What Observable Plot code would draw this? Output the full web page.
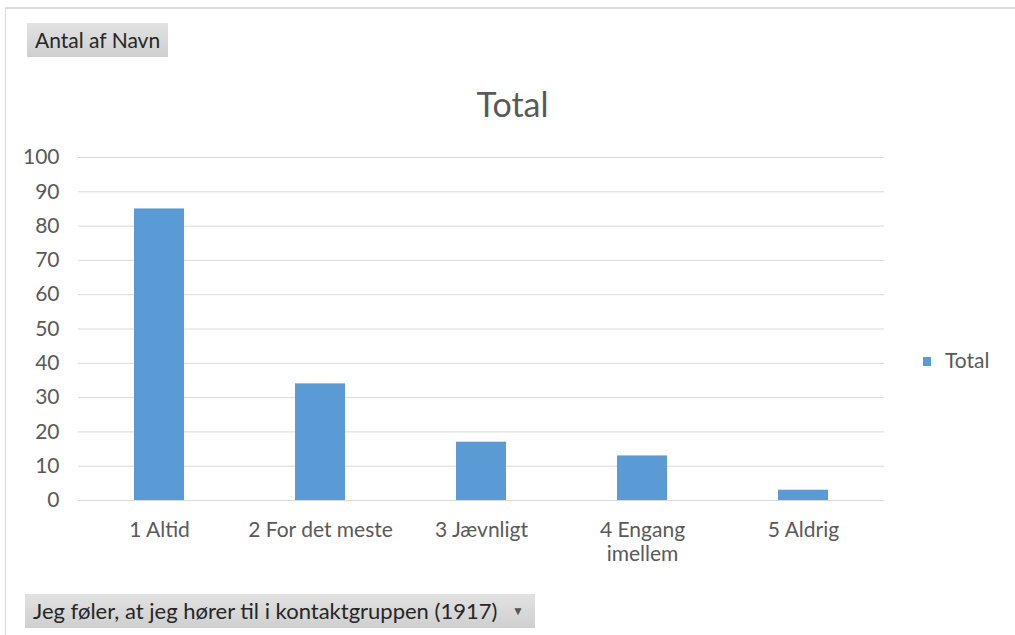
<!DOCTYPE html>
<html>
<head>
<meta charset="utf-8">
<script src="https://cdn.jsdelivr.net/npm/d3@7"></script>
<script src="https://cdn.jsdelivr.net/npm/@observablehq/plot@0.6"></script>
<style>
  html, body { margin: 0; padding: 0; background: #fff; }
  #frame { position: relative; width: 1015px; height: 635px; overflow: hidden; font-family: Lato, "Open Sans", sans-serif; color: #595959; }
  #border { position: absolute; left: 5px; top: 7px; width: 1020px; height: 640px; border-top: 2px solid #dcdcdc; border-left: 1px solid #dcdcdc; }
  .btn { position: absolute; background: linear-gradient(#e2e2e2, #cfcfcf); color: #262626; font-size: 21px; line-height: 34px; padding: 0 8px; white-space: nowrap; box-sizing: border-box; height: 34px; }
  #title { position: absolute; left: 0; width: 1025px; top: 83px; text-align: center; font-size: 34px; line-height: 41px; color: #595959; }
  #legend { position: absolute; left: 923px; top: 347px; font-size: 21px; line-height: 25px; color: #595959; }
  #legend .sw { display: inline-block; width: 8px; height: 9px; background: #5B9BD5; margin-right: 14px; vertical-align: 2px; }
  #chart { position: absolute; left: 0; top: 140px; }
  .arrow { position: absolute; left: 487px; top: 0; font-size: 12px; color: #555; }
</style>
</head>
<body>
<div id="frame">
  <div id="border"></div>
  <div class="btn" style="left:27px; top:23px; width:141px;">Antal af Navn</div>
  <div id="title">Total</div>
  <div id="legend"><span class="sw"></span>Total</div>
  <div id="chart"></div>
  <div class="btn" style="left:25px; top:594px; width:510px; font-size:22px;">Jeg føler, at jeg hører til i kontaktgruppen (1917)<span class="arrow">▼</span></div>
</div>
<script>
const categories = ["1 Altid", "2 For det meste", "3 Jævnligt", "4 Engang imellem", "5 Aldrig"];
const tickLabels = ["1 Altid", "2 For det meste", "3 Jævnligt", "4 Engang\nimellem", "5 Aldrig"];
const values = [85, 34, 17, 13, 3];
const yTicks = [0, 10, 20, 30, 40, 50, 60, 70, 80, 90, 100];

const data = categories.map((c, i) => ({category: c, value: values[i]}));
const labelOf = new Map(categories.map((c, i) => [c, tickLabels[i]]));

const chart = Plot.plot({
  width: 900,
  height: 450,
  marginLeft: 78,
  marginRight: 16,
  marginTop: 17,
  marginBottom: 90,
  style: {fontFamily: "Lato, 'Open Sans', sans-serif", fontSize: "21px", color: "#595959", background: "transparent", overflow: "visible"},
  x: {domain: categories, paddingInner: 0.69, paddingOuter: 0.345, label: null},
  y: {domain: [0, 100], label: null},
  marks: [
    Plot.gridY(yTicks, {stroke: "#d9d9d9", strokeOpacity: 1, strokeWidth: 1}),
    Plot.barY(data, {x: "category", y: "value", fill: "#5B9BD5"}),
    Plot.axisY(yTicks, {tickSize: 0, tickPadding: 19, label: null, fill: "#595959"}),
    Plot.axisX({tickSize: 0, tickPadding: 19, label: null, tickFormat: d => labelOf.get(d), fill: "#595959", lineHeight: 1.15})
  ]
});
document.getElementById("chart").appendChild(chart);
</script>
</body>
</html>
